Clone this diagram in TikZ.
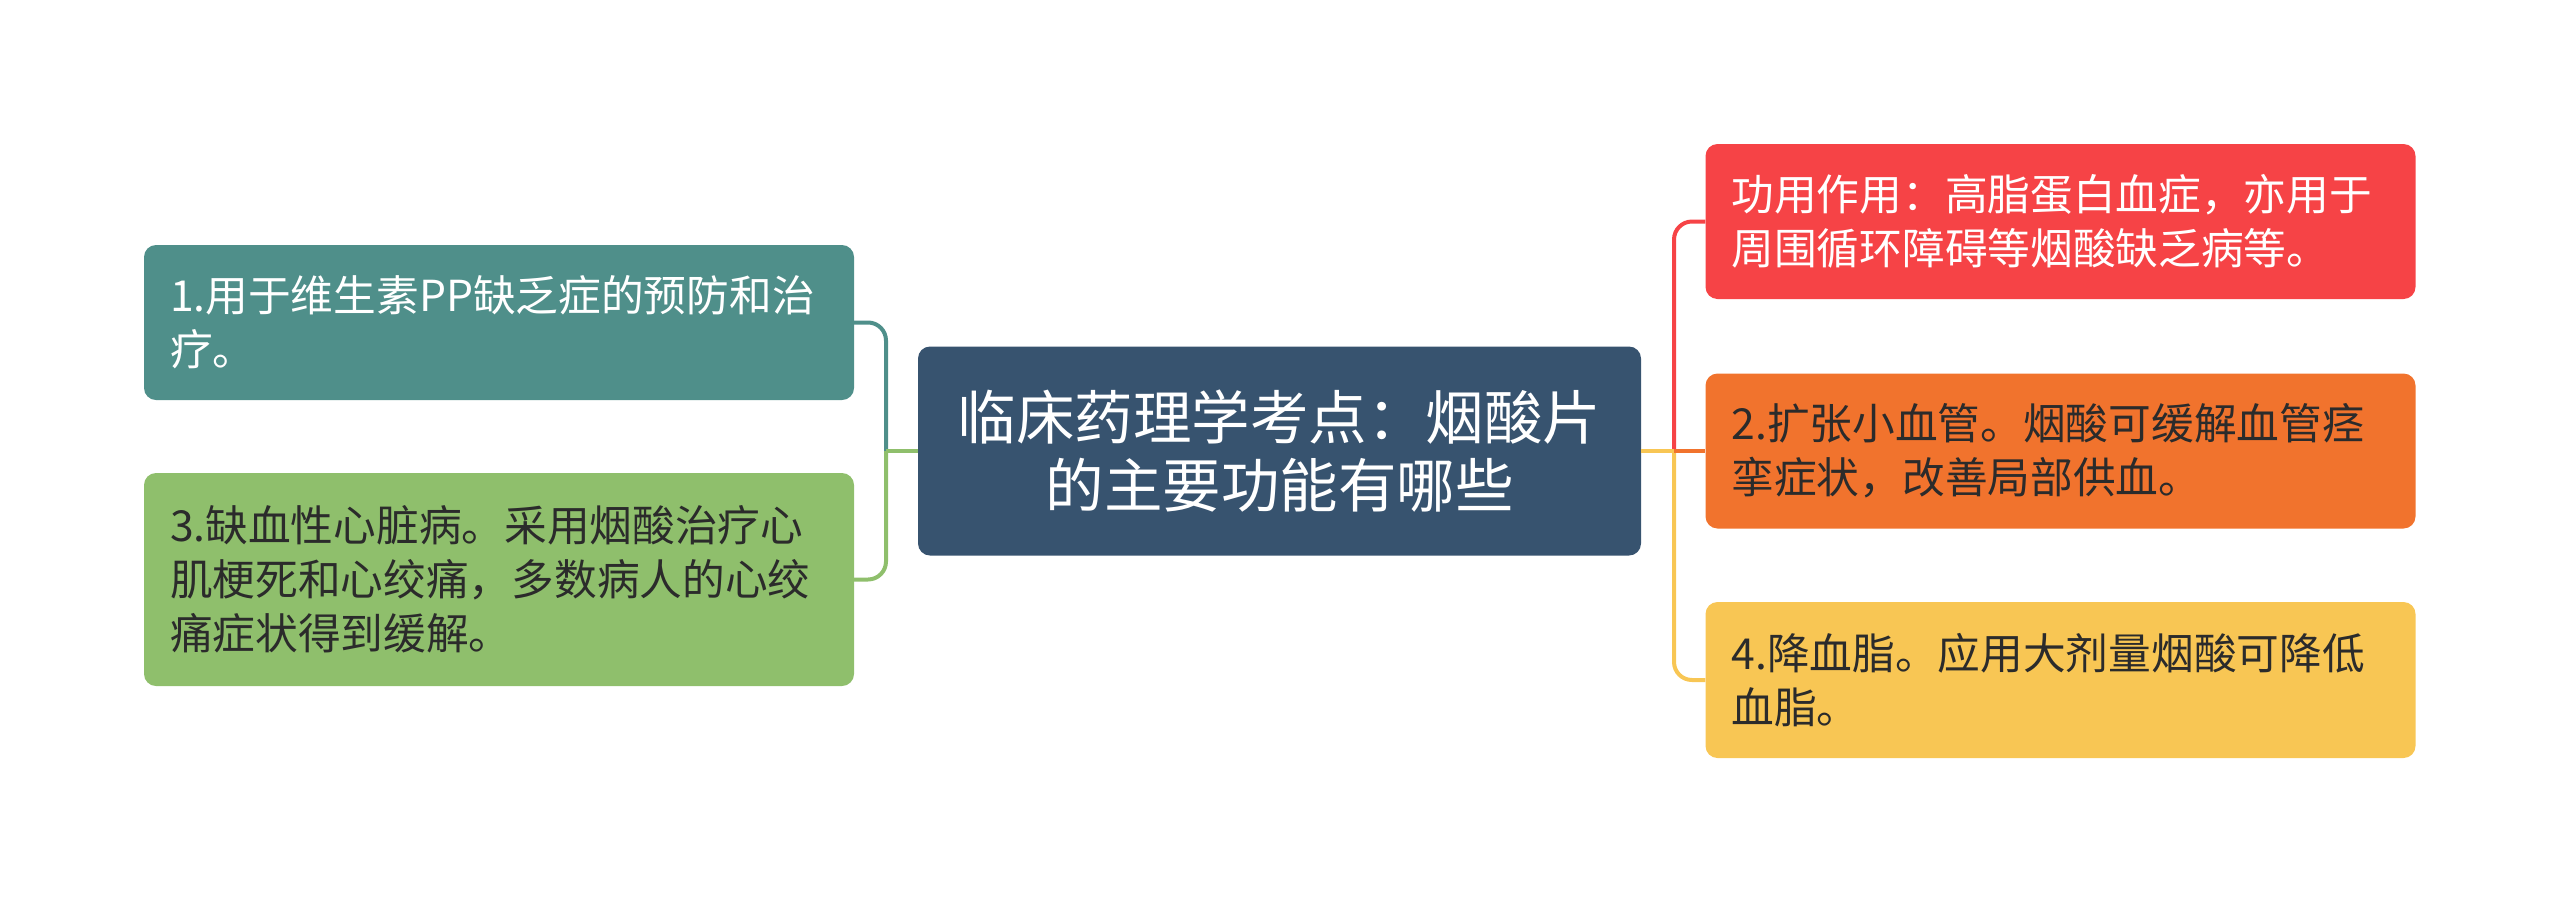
\documentclass[tikz,border=0pt]{standalone}
\usepackage{fontspec}
\setmainfont{Noto Sans CJK SC}
\usetikzlibrary{calc}

\definecolor{tealbox}{HTML}{4F8F8A}
\definecolor{greenbox}{HTML}{8FBF6C}
\definecolor{rootbox}{HTML}{37536F}
\definecolor{redbox}{HTML}{F64346}
\definecolor{orangebox}{HTML}{F1732D}
\definecolor{yellowbox}{HTML}{F8C654}
\definecolor{darktext}{HTML}{2B2B2B}

\tikzset{
  topic/.style={rounded corners=12pt, inner xsep=26pt, inner ysep=0pt,
    text width=658pt, align=left, minimum height=155pt,
    font=\fontsize{42.7}{54}\selectfont},
  roottopic/.style={rounded corners=12pt, inner sep=0pt, fill=rootbox,
    text=white, text width=723pt, minimum height=209pt, align=center,
    font=\fontsize{58.5}{68}\selectfont},
  branch/.style={line width=4pt, rounded corners=18pt}
}

\begin{document}
\begin{tikzpicture}[x=1pt,y=-1pt]
\useasboundingbox (0,0) rectangle (2560,903);

% central topic
\node[roottopic] (root) at (1279.5,451) {临床药理学考点：烟酸片\\的主要功能有哪些};

% left side
\node[topic, fill=tealbox, text=white] (prevent) at (499,322.5)
  {1.用于维生素PP缺乏症的预防和治\\疗。};
\node[topic, fill=greenbox, text=darktext, minimum height=213pt] (heart) at (499,579.5)
  {3.缺血性心脏病。采用烟酸治疗心\\肌梗死和心绞痛，多数病人的心绞\\痛症状得到缓解。};

% right side
\node[topic, fill=redbox, text=white] (usage) at (2060.5,221.5)
  {功用作用：高脂蛋白血症，亦用于\\周围循环障碍等烟酸缺乏病等。};
\node[topic, fill=orangebox, text=darktext] (vessel) at (2060.5,451)
  {2.扩张小血管。烟酸可缓解血管痉\\挛症状，改善局部供血。};
\node[topic, fill=yellowbox, text=darktext, minimum height=156pt] (lipid) at (2060.5,680)
  {4.降血脂。应用大剂量烟酸可降低\\血脂。};

\coordinate (lj) at (886,451);
\coordinate (rj) at (1674,451);

\draw[branch, tealbox] (lj) |- (prevent.east);
\draw[branch, greenbox] (lj) |- (heart.east);
\draw[branch, greenbox] (root.west) -- (lj);
\draw[branch, yellowbox] (rj) |- (lipid.west);
\draw[branch, redbox] (rj) |- (usage.west);
\draw[branch, yellowbox] (root.east) -- (rj);
\draw[branch, orangebox] (rj) -- (vessel.west);

\end{tikzpicture}
\end{document}
